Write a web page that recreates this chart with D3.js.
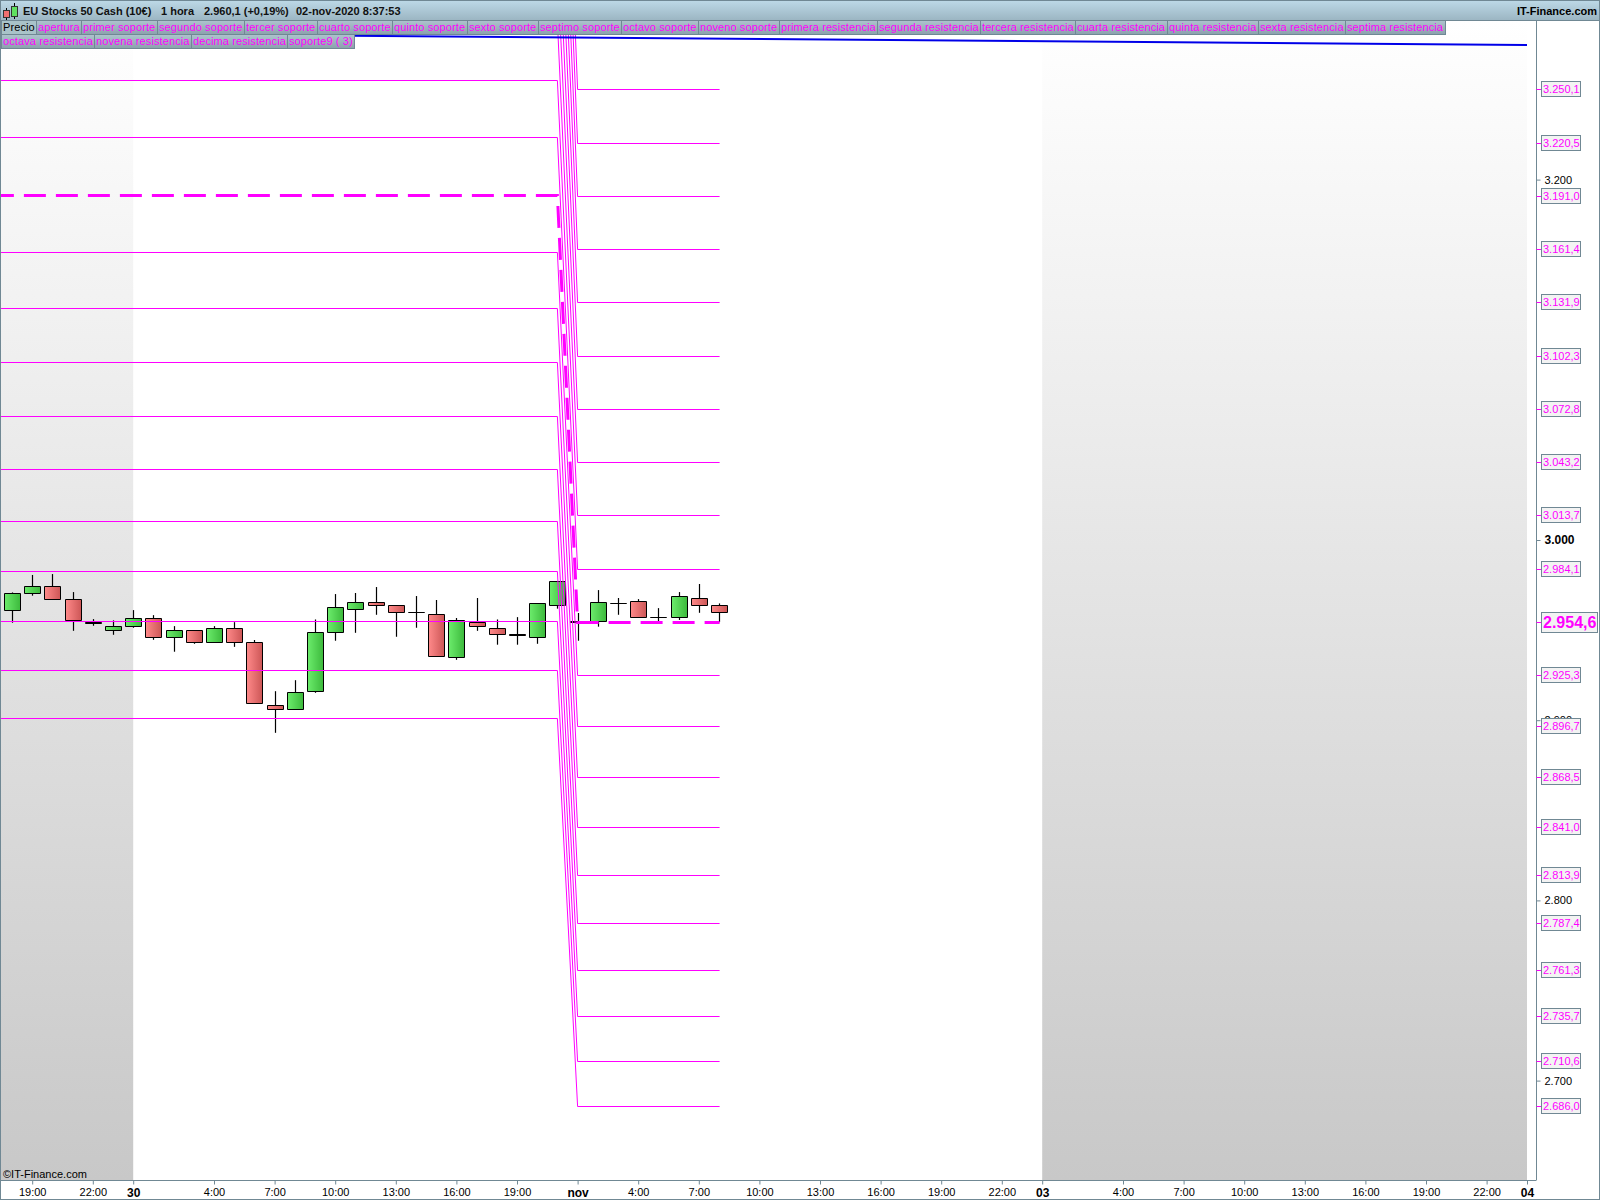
<!DOCTYPE html>
<html><head><meta charset="utf-8">
<script src="https://cdn.jsdelivr.net/npm/d3@7"></script>
<style>
html,body{margin:0;padding:0;background:#fff}
svg{display:block}
text{font-family:"Liberation Sans",Arial,sans-serif}
</style></head><body><div id="chart"></div>
<script>
// ---------- data ----------
const candleOpen  = [2960.7,2970.2,2974.3,2967.1,2954.4,2949.8,2952.0,2956.5,2945.9,2949.8,2943.2,2950.9,2943.2,2908.2,2905.9,2915.9,2948.7,2961.5,2965.4,2963.7,2959.8,2958.7,2934.8,2954.3,2950.9,2947.3,2945.9,2963.7,2954.7,2954.8,2964.8,2965.9,2957.0,2957.0,2967.6,2963.7];
const candleClose = [2970.4,2974.3,2967.1,2955.2,2953.7,2952.0,2956.5,2945.9,2949.8,2943.2,2950.9,2943.2,2909.3,2905.9,2915.4,2948.7,2962.6,2965.4,2963.7,2959.8,2959.8,2935.4,2955.4,2952.0,2947.6,2946.8,2964.8,2977.0,2954.1,2965.4,2964.8,2957.0,2957.0,2968.7,2963.7,2959.8];
const candleHigh  = [2970.9,2980.6,2981.1,2971.1,2956.1,2955.4,2961.1,2958.3,2952.2,2949.8,2952.2,2954.4,2944.5,2916.1,2922.2,2955.9,2970.0,2970.6,2973.9,2963.7,2968.9,2966.7,2956.7,2967.8,2955.9,2957.2,2964.8,2977.0,2959.5,2972.2,2967.8,2967.2,2962.2,2971.1,2975.6,2964.8];
const candleLow   = [2954.1,2969.1,2967.1,2949.6,2952.4,2947.4,2951.3,2944.6,2938.0,2942.4,2943.2,2940.7,2909.3,2893.0,2905.9,2915.2,2944.1,2948.5,2958.5,2946.3,2951.3,2935.4,2933.5,2949.6,2941.9,2941.9,2942.4,2961.9,2944.1,2951.9,2958.5,2957.0,2954.4,2955.6,2959.6,2954.4];

const pivotLeft = 3191.7, pivotRight = 2954.6;
const resistLeft  = [3223.7,3255.4,3288,3321,3354,3388,3422,3456,3491,3526];
const resistRight = [2984.1,3013.7,3043.2,3072.8,3102.3,3131.9,3161.4,3191.0,3220.5,3250.1];
const supportLeft  = [3160.0,3128.9,3098.9,3068.9,3039.4,3010.8,2982.8,2955.0,2927.9,2901.3];
const supportRight = [2925.3,2896.7,2868.5,2841.0,2813.9,2787.4,2761.3,2735.7,2710.6,2686.0];
const blueTrend = [[-0.6,3281.3],[75,3274.7]];

const priceTicks = [3200,3000,2900,2800,2700];
const priceLabels = ["3.250,1","3.220,5","3.191,0","3.161,4","3.131,9","3.102,3","3.072,8","3.043,2","3.013,7","2.984,1","2.925,3","2.896,7","2.868,5","2.841,0","2.813,9","2.787,4","2.761,3","2.735,7","2.710,6","2.686,0"];
const priceLabelValues = [3250.1,3220.5,3191.0,3161.4,3131.9,3102.3,3072.8,3043.2,3013.7,2984.1,2925.3,2896.7,2868.5,2841.0,2813.9,2787.4,2761.3,2735.7,2710.6,2686.0];
const timeTickIdx = [1,4,6,10,13,16,19,22,25,28,31,34,37,40,43,46,49,51,55,58,61,64,67,70,73,75];
const timeTickTxt = ["19:00","22:00","30","4:00","7:00","10:00","13:00","16:00","19:00","nov","4:00","7:00","10:00","13:00","16:00","19:00","22:00","03","4:00","7:00","10:00","13:00","16:00","19:00","22:00","04"];
const boldTimes = ["30","nov","03","04"];
const legendItems = ["Precio","apertura","primer soporte","segundo soporte","tercer soporte","cuarto soporte","quinto soporte","sexto soporte","septimo soporte","octavo soporte","noveno soporte","primera resistencia","segunda resistencia","tercera resistencia","cuarta resistencia","quinta resistencia","sexta resistencia","septima resistencia","octava resistencia","novena resistencia","decima resistencia","soporte9 ( 3)"];
const headerParts = [["EU Stocks 50 Cash (10€)",23],["1 hora",161],["2.960,1 (+0,19%)",204],["02-nov-2020 8:37:53",296]];

// ---------- scales ----------
const W=1600,H=1200;
const x = d3.scaleLinear().domain([0,75]).range([12,1527]);
const y = d3.scaleLinear().domain([3000,2700]).range([540,1080.6]);
const left=1, top0=20, plotB=1180, axisX=1536.5;
const svg = d3.select("#chart").append("svg").attr("width",W).attr("height",H);
const defs = svg.append("defs");
function grad(id,stops,x2,y2){const g=defs.append("linearGradient").attr("id",id).attr("x1",0).attr("y1",0).attr("x2",x2).attr("y2",y2);
  stops.forEach(s=>g.append("stop").attr("offset",s[0]).attr("stop-color",s[1]));}
grad("gBand",[[0,"#ffffff"],[1,"#c8c8c8"]],0,1);
grad("gHead",[[0,"#bcd8e6"],[1,"#9cb6c3"]],0,1);
grad("gLeg",[[0,"#aec3ce"],[1,"#8ba1ad"]],0,1);
grad("gUp",[[0,"#6cec6c"],[1,"#3cb93c"]],1,0);
grad("gDn",[[0,"#ff8a8a"],[1,"#cc5656"]],1,0);
defs.append("clipPath").attr("id","plot").append("rect").attr("x",left).attr("y",top0).attr("width",axisX-left).attr("height",plotB-top0);

// weekend bands
[[left,x(6)],[x(51),x(75)]].forEach(b=>{
  svg.append("rect").attr("x",b[0]).attr("y",top0).attr("width",b[1]-b[0]).attr("height",plotB-top0).attr("fill","url(#gBand)");
});

// candles
const idx = d3.range(candleOpen.length);
const cg = svg.append("g").attr("clip-path","url(#plot)");
cg.selectAll("line.w").data(idx).join("line").attr("class","w")
  .attr("x1",i=>Math.round(x(i))+.5).attr("x2",i=>Math.round(x(i))+.5)
  .attr("y1",i=>y(candleHigh[i])).attr("y2",i=>y(candleLow[i]))
  .attr("stroke","#000").attr("stroke-width",1.2);
cg.selectAll("path.b").data(idx).join("path").attr("class","b")
  .attr("d",i=>{
    const t=Math.floor(y(Math.max(candleOpen[i],candleClose[i])))+.5;
    const h=Math.round(Math.abs(y(candleOpen[i])-y(candleClose[i])));
    const l=Math.round(x(i))-7.5;
    return `M${l},${t}h16v${h}h-16z`;
  })
  .attr("fill",i=>candleClose[i]>=candleOpen[i]?"url(#gUp)":"url(#gDn)")
  .attr("stroke","#000").attr("stroke-width",1);

// level lines
const lg = svg.append("g").attr("clip-path","url(#plot)");
const lineGen = d3.line().x(d=>x(d[0])).y(d=>Math.floor(y(d[1])+.5)+.5);
function levelPath(a,b){return [[-0.6,a],[27,a],[28,b],[35.03,b]];}
const pairs = resistLeft.map((v,i)=>[v,resistRight[i]]).concat(supportLeft.map((v,i)=>[v,supportRight[i]]));
lg.selectAll("path.l").data(pairs).join("path").attr("class","l")
  .attr("d",p=>lineGen(levelPath(p[0],p[1])))
  .attr("fill","none").attr("stroke","#ff00ff").attr("stroke-width",1);
lg.append("path").attr("d",lineGen(levelPath(pivotLeft,pivotRight))).attr("fill","none")
  .attr("stroke","#ff00ff").attr("stroke-width",3).attr("stroke-dasharray","22 10").attr("stroke-dashoffset",8);
// blue regression
lg.append("path").attr("d",d3.line().x(d=>x(d[0])).y(d=>y(d[1]))(blueTrend)).attr("fill","none").attr("stroke","#0000e8").attr("stroke-width",2);

// axes frames
svg.append("rect").attr("x",.5).attr("y",.5).attr("width",W-1).attr("height",H-1).attr("fill","none").attr("stroke","#708894");

const gx = svg.append("g").attr("transform",`translate(0,${plotB+.5})`)
  .call(d3.axisBottom(x).tickValues(timeTickIdx).tickSize(4).tickPadding(4).tickFormat((d,i)=>timeTickTxt[i]));
gx.select(".domain").attr("d",`M0,0H${axisX}`).attr("stroke","#708894");
gx.selectAll("line").attr("stroke","#708894");
gx.selectAll("text").attr("fill","#000")
  .attr("font-weight",(d,i)=>boldTimes.includes(timeTickTxt[i])?"bold":"normal")
  .style("font-size",(d,i)=>boldTimes.includes(timeTickTxt[i])?"12px":"11px")
  .style("font-family",'"Liberation Sans",Arial,sans-serif');

const gy = svg.append("g").attr("transform",`translate(${axisX},0)`)
  .call(d3.axisRight(y).tickValues(priceTicks).tickSize(4).tickPadding(4).tickFormat(d=>d3.format(",")(d).replace(",",".")));
gy.select(".domain").attr("d",`M0,${top0}V${plotB}`).attr("stroke","#708894");
gy.selectAll("line").attr("stroke","#708894");
gy.selectAll("text").attr("fill","#000").style("font-size",d=>d===3000?"12px":"11px").attr("font-weight",d=>d===3000?"bold":"normal")
  .style("font-family",'"Liberation Sans",Arial,sans-serif');

// price labels
const pl = svg.append("g").selectAll("g").data(priceLabelValues).join("g").attr("transform",d=>`translate(0,${Math.floor(y(d)+.5)})`);
pl.append("line").attr("x1",axisX).attr("x2",axisX+5).attr("y1",.5).attr("y2",.5).attr("stroke","#ff00ff");
pl.append("rect").attr("x",1541.5).attr("y",-7.5).attr("width",39).attr("height",15).attr("fill","#f3f3f3").attr("stroke","#708894");
pl.append("text").attr("x",1543).attr("y",4).attr("font-size",11).attr("fill","#ff00ff").text((d,i)=>priceLabels[i]);
const cy=Math.floor(y(pivotRight)+.5);
svg.append("line").attr("x1",axisX).attr("x2",axisX+5).attr("y1",cy+.5).attr("y2",cy+.5).attr("stroke","#ff00ff");
svg.append("rect").attr("x",1541.5).attr("y",cy-9.5).attr("width",56).attr("height",20).attr("fill","#f3f3f3").attr("stroke","#708894");
svg.append("text").attr("x",1543).attr("y",cy+6).attr("font-size",16).attr("font-weight","bold").attr("fill","#ff00ff").text("2.954,6");

// header
svg.append("rect").attr("x",1).attr("y",1).attr("width",W-2).attr("height",19).attr("fill","url(#gHead)");
svg.append("line").attr("x1",0).attr("x2",W).attr("y1",20.5).attr("y2",20.5).attr("stroke","#708894");
svg.append("line").attr("x1",0).attr("x2",W).attr("y1",.5).attr("y2",.5).attr("stroke","#708894");
headerParts.forEach(p=>svg.append("text").attr("x",p[1]).attr("y",15).attr("font-size",11).attr("font-weight","bold").attr("fill","#111").text(p[0]));
svg.append("text").attr("x",1597).attr("y",15).attr("text-anchor","end").attr("font-size",11).attr("font-weight","bold").attr("fill","#000").text("IT-Finance.com");
// icon
svg.append("line").attr("x1",6.5).attr("x2",6.5).attr("y1",8).attr("y2",20).attr("stroke","#000");
svg.append("rect").attr("x",3.5).attr("y",10.5).attr("width",6).attr("height",7).attr("fill","#f07070").attr("stroke","#333");
svg.append("line").attr("x1",14.5).attr("x2",14.5).attr("y1",3).attr("y2",19).attr("stroke","#000");
svg.append("rect").attr("x",11.5).attr("y",6.5).attr("width",6).attr("height",10).attr("fill","#60e060").attr("stroke","#333");

// legend
let lx=1, ly=20;
const rowH=14;
const legG=svg.append("g");
legendItems.forEach((t,i)=>{
  const g=legG.append("g");
  const tx=g.append("text").attr("font-size",11).attr("y",11).attr("letter-spacing",0.1).attr("fill",i===0?"#000":"#ff00ff").text(t);
  const w=Math.ceil(tx.node().getComputedTextLength())+3;
  if(i===18){lx=1;ly+=rowH;}
  g.attr("transform",`translate(${lx},${ly})`);
  g.insert("rect","text").attr("x",.5).attr("y",.5).attr("width",w).attr("height",rowH).attr("fill",i===0?"#a9c3c9":"url(#gLeg)").attr("stroke","#708894");
  tx.attr("x",2);
  lx+=w;
});
// copyright
svg.append("text").attr("x",3).attr("y",1178).attr("font-size",11).attr("fill","#000").text("©IT-Finance.com");
</script></body></html>
